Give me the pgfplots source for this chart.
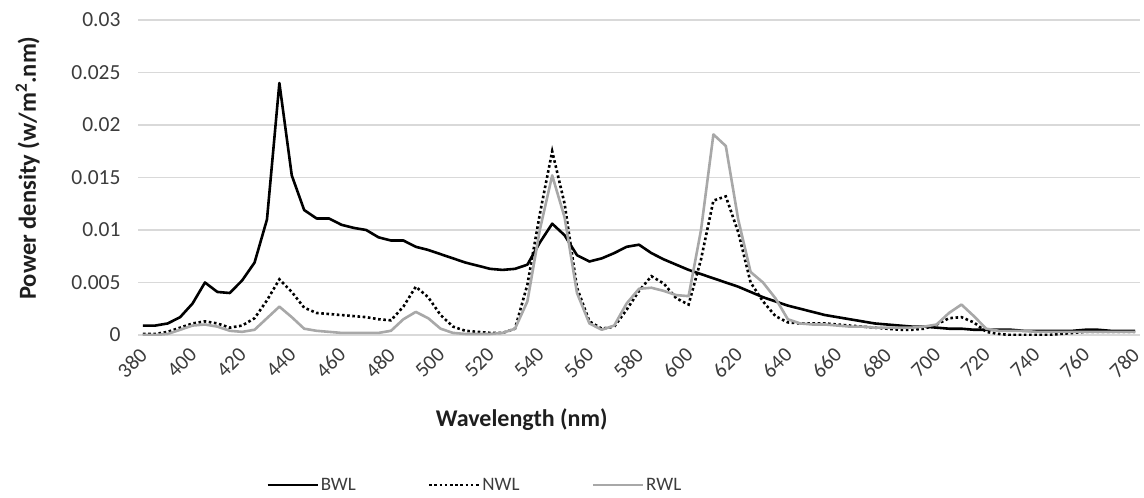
\documentclass[border=0pt]{standalone}
\usepackage{fontspec}
\setmainfont{Carlito}
\usepackage{pgfplots}
\pgfplotsset{compat=1.18}
\usepackage{pgfplotstable}

\definecolor{gridc}{RGB}{217,217,217}
\definecolor{tickc}{RGB}{60,60,60}
\definecolor{titlec}{RGB}{30,30,30}
\definecolor{rwlc}{RGB}{168,168,168}

\pgfplotstableread{
lam B N R
380 0.0009 0.0001 0.0000
385 0.0009 0.0001 0.0000
390 0.0011 0.0003 0.0001
395 0.0017 0.0007 0.0005
400 0.0030 0.0011 0.0009
405 0.0050 0.0013 0.0010
410 0.0041 0.0011 0.0008
415 0.0040 0.0007 0.0004
420 0.0052 0.0009 0.0003
425 0.0069 0.0016 0.0005
430 0.0110 0.0033 0.0016
435 0.0240 0.0053 0.0027
440 0.0152 0.0041 0.0017
445 0.0119 0.0026 0.0006
450 0.0111 0.0021 0.0004
455 0.0111 0.0020 0.0003
460 0.0105 0.0019 0.0002
465 0.0102 0.0018 0.0002
470 0.0100 0.0017 0.0002
475 0.0093 0.0015 0.0002
480 0.0090 0.0014 0.0004
485 0.0090 0.0027 0.0015
490 0.0084 0.0046 0.0022
495 0.0081 0.0036 0.0016
500 0.0077 0.0019 0.0006
505 0.0073 0.0008 0.0002
510 0.0069 0.0004 0.0001
515 0.0066 0.0003 0.0001
520 0.0063 0.0002 0.0001
525 0.0062 0.0002 0.0002
530 0.0063 0.0006 0.0006
535 0.0067 0.0048 0.0032
540 0.0088 0.0115 0.0100
545 0.0106 0.0175 0.0152
550 0.0095 0.0125 0.0112
555 0.0076 0.0045 0.0040
560 0.0070 0.0013 0.0011
565 0.0073 0.0006 0.0005
570 0.0078 0.0008 0.0009
575 0.0084 0.0024 0.0030
580 0.0086 0.0042 0.0044
585 0.0078 0.0056 0.0045
590 0.0072 0.0049 0.0042
595 0.0067 0.0035 0.0038
600 0.0062 0.0029 0.0037
605 0.0058 0.0072 0.0100
610 0.0054 0.0128 0.0191
615 0.0050 0.0132 0.0180
620 0.0046 0.0098 0.0110
625 0.0041 0.0050 0.0060
630 0.0036 0.0032 0.0050
635 0.0032 0.0018 0.0035
640 0.0028 0.0012 0.0015
645 0.0025 0.0011 0.0011
650 0.0022 0.0011 0.0010
655 0.0019 0.0011 0.0010
660 0.0017 0.0010 0.0009
665 0.0015 0.0009 0.0008
670 0.0013 0.0008 0.0008
675 0.0011 0.0007 0.0007
680 0.0010 0.0006 0.0007
685 0.0009 0.0005 0.0007
690 0.0008 0.0005 0.0007
695 0.0008 0.0006 0.0008
700 0.0007 0.0010 0.0010
705 0.0006 0.0016 0.0021
710 0.0006 0.0017 0.0029
715 0.0005 0.0012 0.0018
720 0.0005 0.0003 0.0006
725 0.0005 0.0001 0.0004
730 0.0005 0.0000 0.0004
735 0.0004 0.0000 0.0004
740 0.0004 0.0000 0.0003
745 0.0004 0.0000 0.0003
750 0.0004 0.0001 0.0003
755 0.0004 0.0002 0.0003
760 0.0005 0.0003 0.0003
765 0.0005 0.0003 0.0003
770 0.0004 0.0003 0.0003
775 0.0004 0.0003 0.0003
780 0.0004 0.0003 0.0003
}\spec

\begin{document}
\begin{tikzpicture}
\begin{axis}[
  scale only axis, width=1002pt, height=315pt,
  xmin=378, xmax=782, ymin=0, ymax=0.03,
  scaled y ticks=false,
  axis line style={draw=none},
  major tick length=0pt,
  ymajorgrids, grid style={gridc, line width=1.3pt},
  xtick={380,400,...,780},
  xticklabels={380,400,420,440,460,480,500,520,540,560,580,600,620,640,660,680,700,720,740,760,780},
  ytick={0,0.005,0.01,0.015,0.02,0.025,0.03},
  yticklabels={0,0.005,0.01,0.015,0.02,0.025,0.03},
  xticklabel style={xshift=3pt, yshift=-14pt, rotate=45, anchor=east, font=\fontsize{21}{24}\selectfont, text=tickc},
  yticklabel style={anchor=east, font=\fontsize{21.5}{24}\selectfont, text=tickc, xshift=-14pt},
  xlabel={Wavelength (nm)},
  ylabel={Power density (w/m\textsuperscript{2}.nm)},
  xlabel style={at={(axis description cs:0.383,-0.27)}, anchor=center, font=\bfseries\fontsize{24}{28}\selectfont, text=titlec},
  ylabel style={at={(axis description cs:-0.11,0.53)}, anchor=center, font=\bfseries\fontsize{24.5}{28}\selectfont, text=titlec},
  legend columns=3,
  legend style={at={(axis description cs:0.1248,-0.476)}, anchor=west, draw=none, fill=none,
    font=\fontsize{19}{22}\selectfont, text=tickc,
    /tikz/every even column/.append style={column sep=70pt}},
  legend image code/.code={\draw[#1] (0pt,0pt) -- (50pt,0pt);},
]
\addplot[black, line width=2.6pt, line join=round] table[x=lam, y=B] {\spec};
\addlegendentry{BWL}
\addplot[black, line width=2.6pt, dash pattern=on 2.6pt off 2.6pt] table[x=lam, y=N] {\spec};
\addlegendentry{NWL}
\addplot[rwlc, line width=2.6pt, line join=round] table[x=lam, y=R] {\spec};
\addlegendentry{RWL}
\coordinate (bl) at (rel axis cs:0,0);
\coordinate (tr) at (rel axis cs:1,1);
\end{axis}
\pgfresetboundingbox
\path ([shift={(-138pt,-162pt)}]bl) rectangle ([shift={(4pt,20pt)}]tr);
\end{tikzpicture}
\end{document}
